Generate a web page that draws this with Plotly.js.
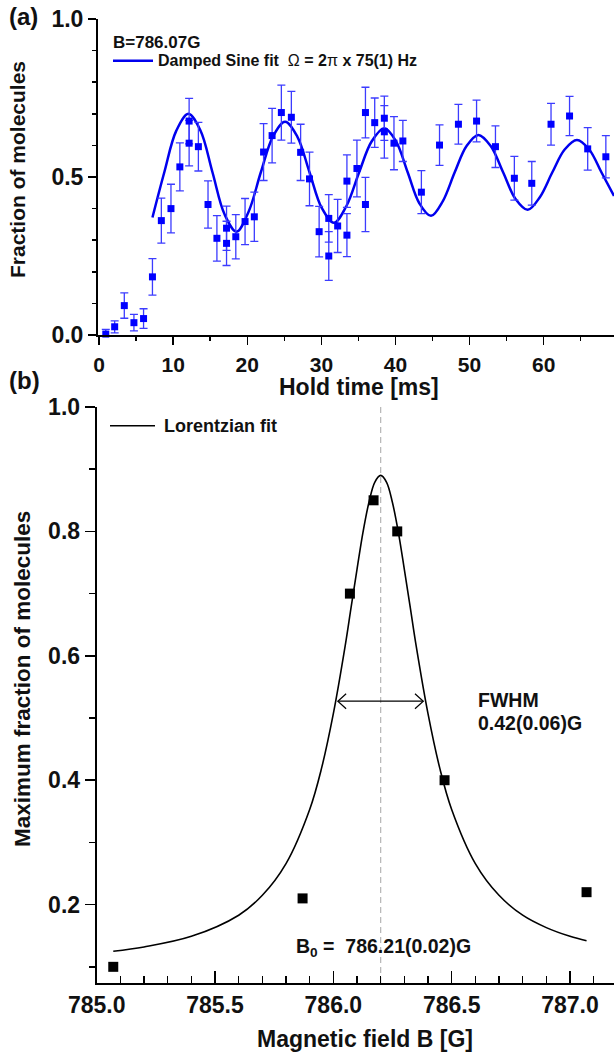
<!DOCTYPE html>
<html>
<head>
<meta charset="utf-8">
<script src="https://cdn.plot.ly/plotly-3.0.1.min.js"></script>
<style>html,body{margin:0;padding:0;background:#fff;}#plot{width:616px;height:1057px;}</style>
</head>
<body>
<div id="plot"></div>
<script>
// ---------- Panel (a): oscillation data ----------
const holdTime = [0.9, 2.1, 3.4, 4.7, 6.0, 7.2, 8.4, 9.7, 10.9, 12.15, 12.15, 13.4, 14.7, 15.9, 17.2, 17.2, 18.45, 19.7, 20.95, 22.2, 23.35, 24.6, 25.95, 27.2, 28.4, 29.7, 31.0, 31.0, 32.2, 33.45, 33.45, 34.8, 35.95, 35.95, 37.2, 38.5, 38.5, 39.8, 41.0, 43.5, 45.95, 48.5, 50.95, 53.5, 56.05, 58.4, 61.0, 63.5, 65.95, 68.4];
const fraction = [0.003, 0.026, 0.093, 0.039, 0.052, 0.184, 0.362, 0.400, 0.532, 0.677, 0.607, 0.596, 0.413, 0.306, 0.338, 0.290, 0.311, 0.359, 0.374, 0.579, 0.631, 0.704, 0.689, 0.578, 0.494, 0.327, 0.250, 0.369, 0.345, 0.487, 0.316, 0.527, 0.704, 0.413, 0.672, 0.686, 0.643, 0.607, 0.614, 0.452, 0.601, 0.667, 0.677, 0.596, 0.496, 0.480, 0.667, 0.693, 0.589, 0.564];
const fractionErr = [0.015, 0.019, 0.040, 0.026, 0.031, 0.058, 0.071, 0.077, 0.076, 0.072, 0.072, 0.077, 0.075, 0.072, 0.070, 0.070, 0.070, 0.073, 0.078, 0.090, 0.086, 0.087, 0.082, 0.089, 0.085, 0.080, 0.077, 0.075, 0.084, 0.083, 0.068, 0.090, 0.080, 0.086, 0.078, 0.070, 0.083, 0.084, 0.065, 0.068, 0.064, 0.063, 0.066, 0.066, 0.069, 0.069, 0.066, 0.062, 0.067, 0.067];
// damped sine fit
const fitTime = [7.2, 8.8, 10.41, 12.05, 13.68, 15.3, 16.93, 18.55, 20.19, 21.83, 23.46, 25.1, 26.75, 28.4, 30.05, 31.7, 33.4, 35.1, 36.8, 38.5, 40.08, 41.65, 43.22, 44.8, 46.4, 48.0, 49.6, 51.2, 52.86, 54.53, 56.19, 57.85, 59.51, 61.18, 62.84, 64.5, 66.15, 67.8, 69.5];
const fitValue = [0.372, 0.515, 0.646, 0.700, 0.647, 0.515, 0.382, 0.327, 0.391, 0.515, 0.628, 0.675, 0.628, 0.515, 0.402, 0.355, 0.409, 0.515, 0.613, 0.654, 0.613, 0.515, 0.417, 0.377, 0.424, 0.515, 0.598, 0.633, 0.598, 0.515, 0.431, 0.396, 0.437, 0.515, 0.587, 0.617, 0.587, 0.515, 0.440];

// ---------- Panel (b): resonance data ----------
const field = [785.07, 785.87, 786.07, 786.17, 786.27, 786.47, 787.07];
const maxFraction = [0.10, 0.21, 0.70, 0.85, 0.80, 0.40, 0.22];
// Lorentzian fit
const lorField = [785.07, 785.2, 785.4, 785.6, 785.7, 785.8, 785.9, 785.95, 786.0, 786.05, 786.075, 786.1, 786.125, 786.15, 786.175, 786.2, 786.225, 786.25, 786.275, 786.3, 786.325, 786.35, 786.4, 786.45, 786.5, 786.6, 786.7, 786.8, 786.9, 787.0, 787.07];
const lorValue = [0.125, 0.132, 0.149, 0.183, 0.215, 0.266, 0.353, 0.419, 0.507, 0.616, 0.678, 0.739, 0.798, 0.846, 0.879, 0.890, 0.879, 0.846, 0.798, 0.739, 0.678, 0.616, 0.507, 0.419, 0.353, 0.266, 0.215, 0.183, 0.163, 0.149, 0.142];
const resonanceCenter = 786.2;
const fwhmLeft = 786.019, fwhmRight = 786.38, fwhmLevel = 0.527;

// ---------- layout helpers ----------
const W = 616, H = 1057;
const px = v => v / W;
const py = v => 1 - v / H;
const FONT = 'Liberation Sans, Arial, Helvetica, sans-serif';
const bold = (size) => ({family: FONT, size: size, color: '#111', weight: 'bold'});

const traces = [
  {x: fitTime, y: fitValue, xaxis: 'x', yaxis: 'y', mode: 'lines',
   line: {color: '#0000ee', width: 2.5, shape: 'spline', smoothing: 1}, hoverinfo: 'skip'},
  {x: holdTime, y: fraction, xaxis: 'x', yaxis: 'y', mode: 'markers', cliponaxis: false,
   marker: {symbol: 'square', size: 7, color: '#0000ff'},
   error_y: {type: 'data', array: fractionErr, visible: true, color: '#3c3cff', thickness: 1.3, width: 4}},
  {x: lorField, y: lorValue, xaxis: 'x2', yaxis: 'y2', mode: 'lines',
   line: {color: '#000', width: 1.6, shape: 'spline', smoothing: 1}},
  {x: field, y: maxFraction, xaxis: 'x2', yaxis: 'y2', mode: 'markers', cliponaxis: false,
   marker: {symbol: 'square', size: 10, color: '#000'}}
];

const axBase = {showgrid: false, zeroline: false, showline: true, linecolor: '#000', linewidth: 2,
  tickcolor: '#000', tickwidth: 1.5};

// double-headed FWHM arrow (line + two open heads), in data units of panel (b)
const headDx = 0.035, headDy = 0.012;
const arrowShapes = [
  {type: 'line', xref: 'x2', yref: 'y2', x0: fwhmLeft, x1: fwhmRight, y0: fwhmLevel, y1: fwhmLevel,
   line: {color: '#000', width: 1.2}},
  {type: 'path', xref: 'x2', yref: 'y2',
   path: `M ${fwhmLeft + headDx},${fwhmLevel + headDy} L ${fwhmLeft},${fwhmLevel} L ${fwhmLeft + headDx},${fwhmLevel - headDy}`,
   line: {color: '#000', width: 1.2}},
  {type: 'path', xref: 'x2', yref: 'y2',
   path: `M ${fwhmRight - headDx},${fwhmLevel + headDy} L ${fwhmRight},${fwhmLevel} L ${fwhmRight - headDx},${fwhmLevel - headDy}`,
   line: {color: '#000', width: 1.2}}
];

const layout = {
  width: W, height: H, margin: {l: 0, r: 0, t: 0, b: 0},
  paper_bgcolor: '#fff', plot_bgcolor: '#fff', showlegend: false,
  font: {family: FONT, color: '#111'},
  xaxis: Object.assign({}, axBase, {domain: [px(98), px(614)], anchor: 'y', range: [-0.15, 69.5],
    tick0: 0, dtick: 10, ticks: 'outside', ticklen: 8, ticklabelstandoff: 2,
    minor: {dtick: 5, ticks: 'outside', ticklen: 4, tickwidth: 1.5, tickcolor: '#000'},
    tickfont: bold(21)}),
  yaxis: Object.assign({}, axBase, {domain: [py(335), py(19)], anchor: 'x', range: [0, 1],
    tick0: 0, dtick: 0.5, tickformat: '.1f', ticks: 'outside', ticklen: 8,
    minor: {dtick: 0.1, ticks: 'outside', ticklen: 4, tickwidth: 1.5, tickcolor: '#000'},
    tickfont: bold(23)}),
  xaxis3: Object.assign({}, axBase, {overlaying: 'x', anchor: 'y', side: 'top', range: [-0.15, 69.5],
    tick0: 0, dtick: 10, ticks: 'inside', ticklen: 6, showticklabels: false,
    minor: {dtick: 5, ticks: 'inside', ticklen: 5, tickwidth: 1.5, tickcolor: '#000'}}),
  yaxis3: Object.assign({}, axBase, {overlaying: 'y', anchor: 'x', side: 'right', range: [0, 1],
    tick0: 0, dtick: 0.5, ticks: 'inside', ticklen: 5, showticklabels: false,
    minor: {dtick: 0.1, ticks: 'inside', ticklen: 4, tickwidth: 1.5, tickcolor: '#000'}}),
  xaxis2: Object.assign({}, axBase, {domain: [px(96.7), px(614)], anchor: 'y2', range: [785.0, 787.186],
    tick0: 785, dtick: 0.5, tickformat: '.1f', ticks: 'inside', ticklen: 12,
    minor: {dtick: 0.1, ticks: 'inside', ticklen: 7, tickwidth: 1.5, tickcolor: '#000'},
    tickfont: bold(23)}),
  yaxis2: Object.assign({}, axBase, {domain: [py(983), py(407)], anchor: 'x2', range: [0.074, 1.0],
    tick0: 0, dtick: 0.2, tickformat: '.1f', ticks: 'outside', ticklen: 10,
    minor: {dtick: 0.1, ticks: 'outside', ticklen: 6, tickwidth: 1.5, tickcolor: '#000'},
    tickfont: bold(23)}),
  xaxis4: Object.assign({}, axBase, {overlaying: 'x2', anchor: 'y2', side: 'top', range: [785.0, 787.186],
    tick0: 785, dtick: 0.5, ticks: 'inside', ticklen: 3, showticklabels: false,
    minor: {dtick: 0.1, ticks: 'inside', ticklen: 3, tickwidth: 1, tickcolor: '#000'}}),
  yaxis4: Object.assign({}, axBase, {overlaying: 'y2', anchor: 'x2', side: 'right', range: [0.074, 1.0],
    tick0: 0, dtick: 0.2, ticks: 'inside', ticklen: 6, showticklabels: false,
    minor: {dtick: 0.1, ticks: 'inside', ticklen: 5, tickwidth: 1.5, tickcolor: '#000'}}),
  shapes: [
    {type: 'line', xref: 'paper', yref: 'paper', x0: px(113), x1: px(153), y0: py(60.7), y1: py(60.7),
     line: {color: '#0000ee', width: 2.5}},
    {type: 'line', xref: 'paper', yref: 'paper', x0: px(110), x1: px(155), y0: py(425.7), y1: py(425.7),
     line: {color: '#000', width: 1.5}},
    {type: 'line', xref: 'x2', yref: 'paper', x0: resonanceCenter, x1: resonanceCenter, y0: py(983), y1: py(407),
     line: {color: '#b5b5b5', width: 1.2, dash: '6px,4px'}, layer: 'below'}
  ].concat(arrowShapes),
  annotations: [
    {text: '(a)', xref: 'paper', yref: 'paper', x: px(7), y: py(16), xanchor: 'left', yanchor: 'middle', showarrow: false, font: bold(24)},
    {text: '(b)', xref: 'paper', yref: 'paper', x: px(7), y: py(380), xanchor: 'left', yanchor: 'middle', showarrow: false, font: bold(24)},
    {text: 'Fraction of molecules', xref: 'paper', yref: 'paper', x: px(18), y: py(170), textangle: -90, xanchor: 'center', yanchor: 'middle', showarrow: false, font: bold(21)},
    {text: 'Hold time [ms]', xref: 'paper', yref: 'paper', x: px(359), y: py(387), xanchor: 'center', yanchor: 'middle', showarrow: false, font: bold(23)},
    {text: 'Maximum fraction of molecules', xref: 'paper', yref: 'paper', x: px(22), y: py(679), textangle: -90, xanchor: 'center', yanchor: 'middle', showarrow: false, font: bold(22.5)},
    {text: 'Magnetic field B [G]', xref: 'paper', yref: 'paper', x: px(365), y: py(1039), xanchor: 'center', yanchor: 'middle', showarrow: false, font: bold(23)},
    {text: 'B=786.07G', xref: 'paper', yref: 'paper', x: px(111), y: py(42.7), xanchor: 'left', yanchor: 'middle', showarrow: false, font: bold(17)},
    {text: 'Damped Sine fit\u00a0\u00a0<span style="font-weight:normal">\u03A9</span> = 2<span style="font-weight:normal">\u03C0</span> x 75(1) Hz', xref: 'paper', yref: 'paper', x: px(156), y: py(60.7), xanchor: 'left', yanchor: 'middle', showarrow: false, font: bold(16)},
    {text: 'Lorentzian fit', xref: 'paper', yref: 'paper', x: px(162), y: py(425.7), xanchor: 'left', yanchor: 'middle', showarrow: false, font: bold(18)},
    {text: 'FWHM', xref: 'paper', yref: 'paper', x: px(476), y: py(700), xanchor: 'left', yanchor: 'middle', showarrow: false, font: bold(19.5)},
    {text: '0.42(0.06)G', xref: 'paper', yref: 'paper', x: px(476), y: py(723), xanchor: 'left', yanchor: 'middle', showarrow: false, font: bold(19.5)},
    {text: 'B<sub>0</sub> =\u00a0\u00a0786.21(0.02)G', xref: 'paper', yref: 'paper', x: px(294), y: py(947), xanchor: 'left', yanchor: 'middle', showarrow: false, font: bold(19.5)}
  ]
};

Plotly.newPlot('plot', traces, layout, {staticPlot: true, displayModeBar: false});
</script>
</body>
</html>
